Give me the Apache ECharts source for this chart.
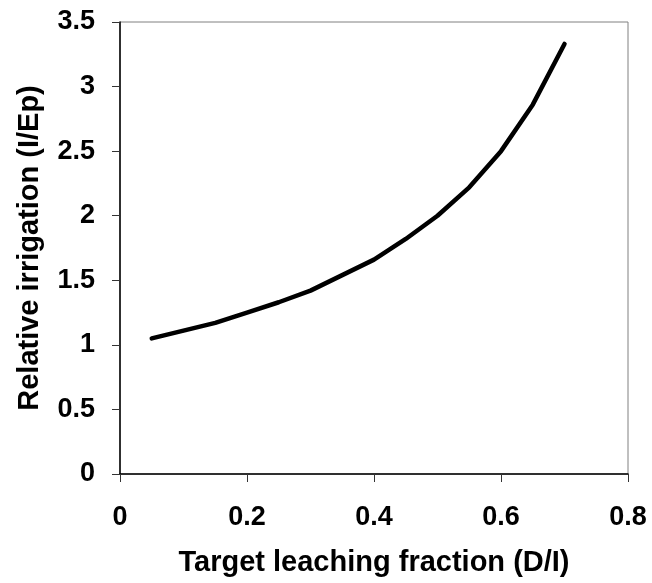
<!DOCTYPE html>
<html>
<head>
<meta charset="utf-8">
<script src="https://cdn.jsdelivr.net/npm/echarts@6/dist/echarts.min.js"></script>
<style>html,body{margin:0;padding:0;background:#fff}#c{width:652px;height:583px}</style>
</head>
<body>
<div id="c"></div>
<script>
const leachingFraction = [0.05, 0.10, 0.15, 0.20, 0.25, 0.30, 0.35, 0.40, 0.45, 0.50, 0.55, 0.60, 0.65, 0.70];
const relativeIrrigation = [1.05, 1.11, 1.17, 1.25, 1.33, 1.42, 1.54, 1.66, 1.82, 2.00, 2.22, 2.50, 2.86, 3.33];
const xTitle = 'Target leaching fraction (D/I)';
const yTitle = 'Relative irrigation (I/Ep)';

const font = '"Liberation Sans", Arial, sans-serif';
const chart = echarts.init(document.getElementById('c'), null, {renderer: 'canvas'});
chart.setOption({
  animation: false,
  backgroundColor: '#fff',
  grid: {left: 120, right: 24, top: 22, bottom: 109, show: true, borderColor: '#808080', borderWidth: 1, backgroundColor: 'transparent'},
  xAxis: {
    type: 'value', min: 0, max: 0.8, interval: 0.2,
    name: xTitle, nameLocation: 'middle', nameGap: 74,
    nameTextStyle: {fontFamily: font, fontWeight: 'bold', fontSize: 29, color: '#000'},
    axisLine: {show: true, onZero: false, lineStyle: {color: '#000', width: 1.5}},
    axisTick: {show: true, inside: false, length: 8, lineStyle: {color: '#333', width: 1}},
    axisLabel: {margin: 30, fontFamily: font, fontWeight: 'bold', fontSize: 27, color: '#000',
      formatter: v => (Math.round(v * 10) / 10).toString()},
    splitLine: {show: false}
  },
  yAxis: {
    type: 'value', min: 0, max: 3.5, interval: 0.5,
    name: yTitle, nameLocation: 'middle', nameGap: 76, nameRotate: 90,
    nameTextStyle: {fontFamily: font, fontWeight: 'bold', fontSize: 29, color: '#000'},
    axisLine: {show: true, onZero: false, lineStyle: {color: '#000', width: 1.5}},
    axisTick: {show: true, inside: false, length: 8, lineStyle: {color: '#333', width: 1}},
    axisLabel: {margin: 25, fontFamily: font, fontWeight: 'bold', fontSize: 27, color: '#000',
      formatter: v => (Math.round(v * 10) / 10).toString()},
    splitLine: {show: false}
  },
  series: [{
    type: 'line',
    data: leachingFraction.map((x, i) => [x, relativeIrrigation[i]]),
    showSymbol: false, symbol: 'none',
    lineStyle: {color: '#000', width: 4.5, cap: 'round', join: 'round'},
    smooth: false
  }]
});
</script>
</body>
</html>
